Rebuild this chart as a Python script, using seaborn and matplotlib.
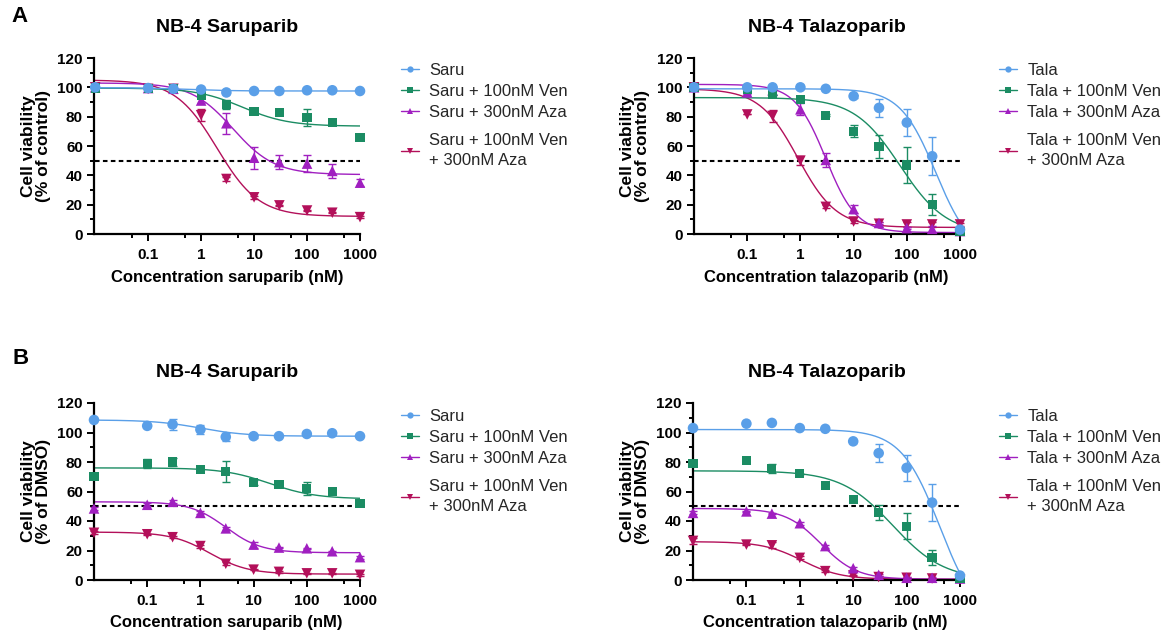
import numpy as np
import pandas as pd
import matplotlib
matplotlib.use("Agg")
import matplotlib.pyplot as plt
import seaborn as sns
from matplotlib.lines import Line2D
from matplotlib.ticker import FixedLocator, NullFormatter, FixedFormatter

# ---------------- data ----------------
conc = [0.01, 0.1, 0.3, 1, 3, 10, 30, 100, 300, 1000]
x_ticks = [0.1, 1, 10, 100, 1000]
x_tick_labels = ["0.1", "1", "10", "100", "1000"]

saru_labels = ["Saru", "Saru + 100nM Ven", "Saru + 300nM Aza", "Saru + 100nM Ven\n+ 300nM Aza"]
tala_labels = ["Tala", "Tala + 100nM Ven", "Tala + 300nM Aza", "Tala + 100nM Ven\n+ 300nM Aza"]

# Panel A - saruparib (% of control)
A_saru = [100, 99.5, 99, 98.5, 96.5, 97.5, 97.5, 98, 98, 97.5]
A_saru_err = [0, 0, 0, 0.5, 1, 0.5, 0.5, 0.5, 0.5, 0.5]
A_saru_ven = [99.5, 99, 99, 94.5, 88.5, 83.5, 83, 79.5, 76, 66]
A_saru_ven_err = [0, 0, 0, 1.5, 3, 1, 0.5, 6, 1.5, 2]
A_saru_aza = [100, 99.5, 99, 91, 75.5, 52, 49, 48, 43, 35]
A_saru_aza_err = [0, 0, 0, 1.5, 7, 7.5, 5, 6, 5, 2.5]
A_saru_vaza = [100, 99, 99, 81, 37.5, 25, 19.5, 16, 14.5, 11.5]
A_saru_vaza_err = [0, 0, 0, 4, 1.5, 1, 0.5, 0.5, 0.5, 0.5]
# fitted curves: top, bottom, IC50, hill
A_saru_fit = [[99.8, 97.5, 0.5, 1.0], [99.5, 73.5, 6, 1.0], [103, 40.5, 4, 1.1], [105, 12, 2, 1.1]]

# Panel A - talazoparib (% of control)
A_tala = [100, 100, 100, 100, 99, 94, 86, 76, 53, 3]
A_tala_err = [0, 0, 0, 0, 0.5, 1, 6, 9, 13, 1]
A_tala_ven = [100, 98.5, 95, 91.5, 81, 70, 59.5, 47, 20, 1.5]
A_tala_ven_err = [0, 0, 0, 1, 0.5, 4, 8, 12, 7, 0.5]
A_tala_aza = [100, 96.5, 98, 85, 50.5, 17, 7.5, 4, 3.5, 2]
A_tala_aza_err = [0, 1, 0, 4, 5, 3, 1, 0.5, 2, 0]
A_tala_vaza = [100, 81.5, 80.5, 50, 18.5, 8.5, 7, 6.5, 6.5, 6.5]
A_tala_vaza_err = [0, 0, 4, 3, 1, 1, 1, 2, 2, 1]
A_tala_fit = [[99, -15, 350, 1.3], [93, 0, 75, 1.0], [102, 1, 3, 1.5], [99, 4.5, 0.9, 1.2]]

# Panel B - saruparib (% of DMSO)
B_saru = [108.5, 104.5, 105.5, 102, 97, 97.5, 97.5, 99, 99.5, 97.5]
B_saru_err = [0, 1, 3.5, 3, 2.5, 1, 0.5, 1, 1, 0.5]
B_saru_ven = [70, 79, 80, 75, 73.5, 66, 65, 62, 60, 52]
B_saru_ven_err = [0, 3, 2.5, 1, 7, 1.5, 1, 4.5, 1, 0.5]
B_saru_aza = [48.5, 51, 53, 45.5, 35, 24, 22, 21.5, 19.5, 15.5]
B_saru_aza_err = [1, 1, 1, 1, 1, 2, 0.5, 0.5, 0.5, 1]
B_saru_vaza = [32, 31, 29, 23, 11, 7, 5.5, 4.5, 4.5, 3.5]
B_saru_vaza_err = [1, 0.5, 0.5, 1, 1, 0.5, 0.5, 0.5, 0.5, 0.5]
B_saru_fit = [[108.5, 97.5, 1.0, 1.0], [76, 55, 20, 1.0], [53, 18.5, 3, 1.3], [32.5, 4, 1.5, 1.2]]

# Panel B - talazoparib (% of DMSO)
B_tala = [103, 106, 106.5, 103, 102.5, 94, 86, 76, 52.5, 3]
B_tala_err = [0, 0, 0, 0, 0, 1, 6, 9, 12.5, 1]
B_tala_ven = [79, 81, 75.5, 72, 64, 54.5, 46, 36.5, 15.5, 1]
B_tala_ven_err = [0, 0, 3, 0, 0, 0, 5, 9, 5, 0]
B_tala_aza = [45.5, 46.5, 45, 38.5, 23, 8, 3.5, 1.5, 1.5, 1]
B_tala_aza_err = [1, 0.5, 0.5, 1, 1, 1, 0.5, 0.5, 0.5, 0.5]
B_tala_vaza = [26.5, 24, 23.5, 15, 6, 3, 2, 1.5, 1, 0.5]
B_tala_vaza_err = [2, 0.5, 2, 1, 0.5, 0.5, 0.5, 0.5, 0.5, 0.5]
B_tala_fit = [[102, -30, 420, 1.2], [74, 0, 55, 0.9], [48.5, 0.5, 2.5, 1.3], [26, 0.5, 1.1, 1.2]]

# ---------------- style ----------------
sns.set_theme(style="ticks")
plt.rcParams['font.family'] = ['Liberation Sans', 'DejaVu Sans']

colors = ["#5A9FE8", "#1B8C63", "#A01FC0", "#B3105A"]
markers = ["o", "s", "^", "v"]
msizes = [58, 44, 58, 58]

fig = plt.figure(figsize=(11.75, 6.37), dpi=100)
W, H = 1175, 637


def add_axes(left_px, right_px, top_px, bottom_px):
    return fig.add_axes([left_px / W, 1 - bottom_px / H, (right_px - left_px) / W, (bottom_px - top_px) / H])


def draw_panel(ax, series, errs, fits, xleft):
    ax.set_xscale('log')
    xs = np.logspace(np.log10(xleft), 3, 400)
    for i in reversed(range(4)):
        top, bottom, ic50, hill = fits[i]
        ys = bottom + (top - bottom) / (1 + (xs / ic50) ** hill)
        sns.lineplot(x=xs, y=ys, ax=ax, color=colors[i], lw=1.0, zorder=2, legend=False)
        ax.errorbar(conc, series[i], yerr=errs[i], fmt='none', ecolor=colors[i],
                    elinewidth=1.0, capsize=3, capthick=1.0, zorder=3, clip_on=False)
        sns.scatterplot(x=conc, y=series[i], ax=ax, color=colors[i], marker=markers[i],
                        s=msizes[i], edgecolor='none', linewidth=0, zorder=4 + (3 - i),
                        clip_on=False, legend=False)
    ax.plot([0.01, 1000], [50, 50], color='black', lw=1.5, ls=(0, (2.2, 1.6)), zorder=1)
    ax.set_xlim(xleft, 1000)
    ax.set_ylim(0, 120)
    ax.xaxis.set_major_locator(FixedLocator(x_ticks))
    ax.xaxis.set_major_formatter(FixedFormatter(x_tick_labels))
    ax.xaxis.set_minor_locator(FixedLocator([0.05, 0.5, 5, 50, 500]))
    ax.xaxis.set_minor_formatter(NullFormatter())
    ax.yaxis.set_major_locator(FixedLocator([0, 20, 40, 60, 80, 100, 120]))
    ax.yaxis.set_minor_locator(FixedLocator([10, 30, 50, 70, 90, 110]))
    ax.set_xlabel("")
    ax.set_ylabel("")
    sns.despine(ax=ax)
    for s in ['left', 'bottom']:
        ax.spines[s].set_linewidth(1.6)
        ax.spines[s].set_color('black')
    ax.tick_params(which='major', length=5, width=1.4, color='black', labelsize=11)
    ax.tick_params(axis='x', which='major', pad=5)
    ax.tick_params(axis='y', which='major', pad=3)
    ax.tick_params(which='minor', length=3, width=1.4, color='black')
    for lab in ax.get_xticklabels() + ax.get_yticklabels():
        lab.set_fontweight('bold')
        lab.set_color('black')


def add_legend(ax, labels, x_px, y_px):
    handles = [Line2D([0], [0], color=colors[i], lw=1.0, marker=markers[i], markersize=4.5,
                      markeredgewidth=0) for i in range(4)]
    common = dict(loc='upper left', bbox_transform=fig.transFigure, frameon=False, fontsize=12,
                  handlelength=1.1, handletextpad=0.6, labelspacing=0.36,
                  borderpad=0, borderaxespad=0)
    leg1 = ax.legend(handles[:3], labels[:3], bbox_to_anchor=(x_px / W, 1 - y_px / H), **common)
    ax.add_artist(leg1)
    leg2 = ax.legend(handles[3:], labels[3:], bbox_to_anchor=(x_px / W, 1 - (y_px + 70) / H), **common)
    leg2.get_texts()[0].set_linespacing(1.45)


axA1 = add_axes(94, 360, 58, 234)
axA2 = add_axes(694, 960, 58, 234)
axB1 = add_axes(94, 360, 403, 580)
axB2 = add_axes(693, 960, 403, 580)

draw_panel(axA1, [A_saru, A_saru_ven, A_saru_aza, A_saru_vaza],
           [A_saru_err, A_saru_ven_err, A_saru_aza_err, A_saru_vaza_err], A_saru_fit, 0.0095)
draw_panel(axA2, [A_tala, A_tala_ven, A_tala_aza, A_tala_vaza],
           [A_tala_err, A_tala_ven_err, A_tala_aza_err, A_tala_vaza_err], A_tala_fit, 0.01)
draw_panel(axB1, [B_saru, B_saru_ven, B_saru_aza, B_saru_vaza],
           [B_saru_err, B_saru_ven_err, B_saru_aza_err, B_saru_vaza_err], B_saru_fit, 0.01)
draw_panel(axB2, [B_tala, B_tala_ven, B_tala_aza, B_tala_vaza],
           [B_tala_err, B_tala_ven_err, B_tala_aza_err, B_tala_vaza_err], B_tala_fit, 0.01)

add_legend(axA1, saru_labels, 401, 63)
add_legend(axA2, tala_labels, 999, 63)
add_legend(axB1, saru_labels, 401, 409)
add_legend(axB2, tala_labels, 999, 409)

bold = dict(fontweight='bold', color='black')
# titles
fig.text(227 / W, 1 - 27 / H, "NB-4 Saruparib", ha='center', va='center', fontsize=14, **bold)
fig.text(827 / W, 1 - 27 / H, "NB-4 Talazoparib", ha='center', va='center', fontsize=14, **bold)
fig.text(227 / W, 1 - 372 / H, "NB-4 Saruparib", ha='center', va='center', fontsize=14, **bold)
fig.text(827 / W, 1 - 372 / H, "NB-4 Talazoparib", ha='center', va='center', fontsize=14, **bold)
# x labels
fig.text(227 / W, 1 - 277 / H, "Concentration saruparib (nM)", ha='center', va='center', fontsize=12, **bold)
fig.text(826 / W, 1 - 277 / H, "Concentration talazoparib (nM)", ha='center', va='center', fontsize=12, **bold)
fig.text(226 / W, 1 - 623 / H, "Concentration saruparib (nM)", ha='center', va='center', fontsize=12, **bold)
fig.text(825 / W, 1 - 623 / H, "Concentration talazoparib (nM)", ha='center', va='center', fontsize=12, **bold)
# y labels
fig.text(36 / W, 1 - 146 / H, "Cell viability\n(% of control)", rotation=90, ha='center', va='center',
         fontsize=12.5, linespacing=0.95, multialignment='center', **bold)
fig.text(635 / W, 1 - 146 / H, "Cell viability\n(% of control)", rotation=90, ha='center', va='center',
         fontsize=12.5, linespacing=0.95, multialignment='center', **bold)
fig.text(36 / W, 1 - 491 / H, "Cell viability\n(% of DMSO)", rotation=90, ha='center', va='center',
         fontsize=12.5, linespacing=0.95, multialignment='center', **bold)
fig.text(635 / W, 1 - 491 / H, "Cell viability\n(% of DMSO)", rotation=90, ha='center', va='center',
         fontsize=12.5, linespacing=0.95, multialignment='center', **bold)
# panel letters
fig.text(19 / W, 1 - 16 / H, "A", ha='center', va='center', fontsize=16, **bold)
fig.text(21 / W, 1 - 358 / H, "B", ha='center', va='center', fontsize=16, **bold)

fig.savefig("out.png", dpi=100, facecolor='white')
